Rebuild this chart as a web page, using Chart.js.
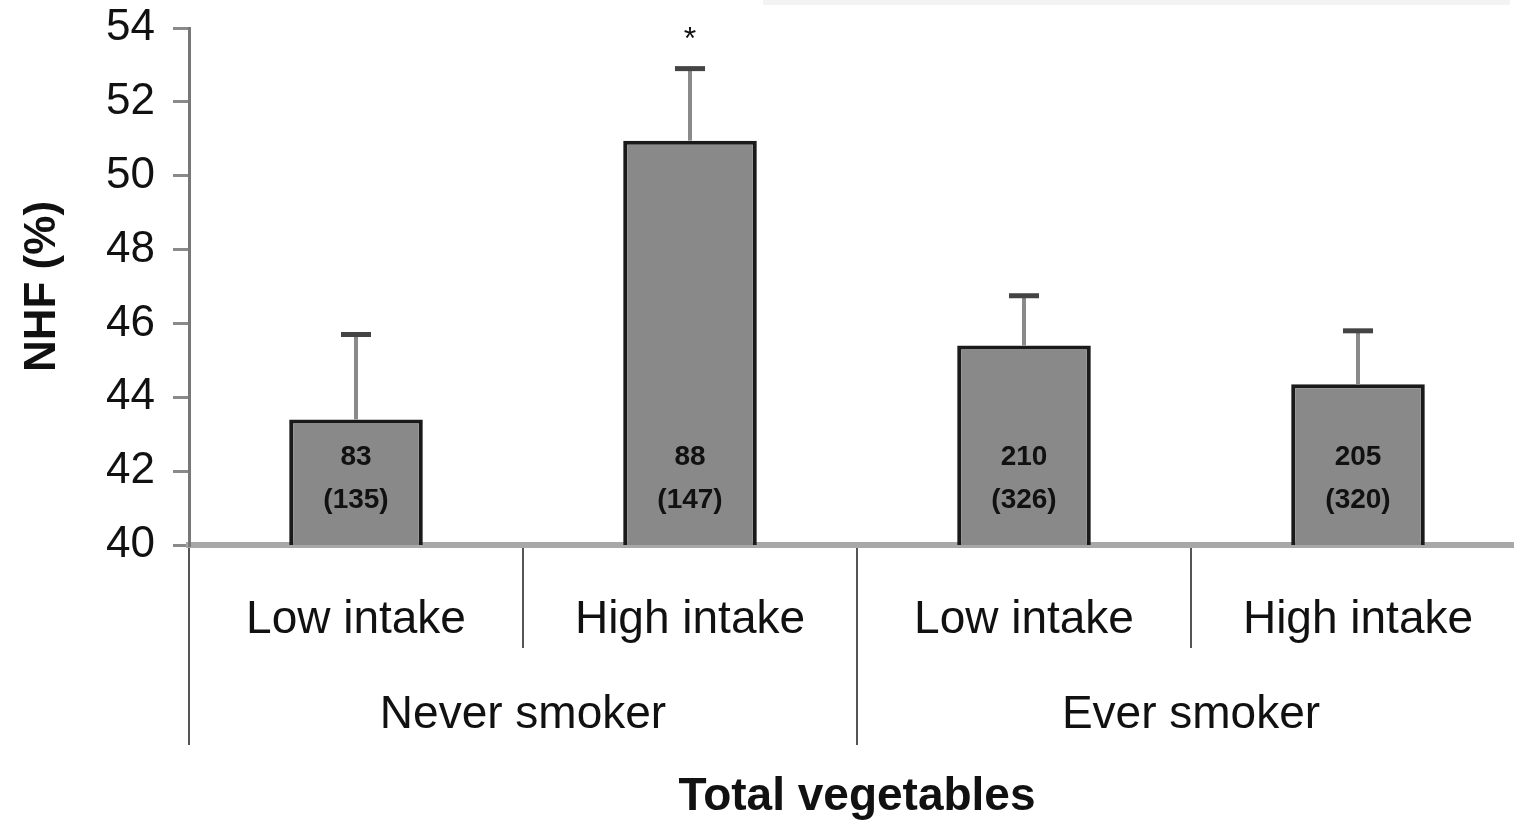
<!DOCTYPE html>
<html>
<head>
<meta charset="utf-8">
<title>NHF by total vegetables intake</title>
<script src="https://cdn.jsdelivr.net/npm/chart.js@4.4.1/dist/chart.umd.min.js"></script>
<style>
    html, body { margin: 0; padding: 0; background: #ffffff; overflow: hidden; }
    #wrap { position: relative; width: 1514px; height: 820px; overflow: hidden; }
    #strip { position: absolute; top: 0; left: 763px; width: 747px; height: 5px; background: #f2f3f2; }
</style>
</head>
<body>
<div id="wrap">
    <canvas id="nhfChart" width="1525" height="820"></canvas>
    <div id="strip"></div>
</div>
<script>
// chart values
const intakeLabels = ['Low intake', 'High intake', 'Low intake', 'High intake']; // bars
const smokerGroups = ['Never smoker', 'Ever smoker']; // two bars per group
const nhfMeans = [43.4, 50.95, 45.4, 44.35]; // NHF (%) means
const nhfUpper = [45.7, 52.9, 46.75, 45.8]; // top of the error bars
const nCases = ['83', '88', '210', '205']; // number printed in the bar
const nTotal = ['(135)', '(147)', '(326)', '(320)']; // number in brackets
const signif = ['', '*', '', '']; // significance mark
const yTicks = [40, 42, 44, 46, 48, 50, 52, 54];

const FONT = "'Liberation Sans', Arial, sans-serif";

// draws error bars, counts, asterisk, and the two-level x axis
const extrasPlugin = {
    id: 'extras',
    afterDatasetsDraw(chart) {
        const ctx = chart.ctx;
        const x = chart.scales.x;
        const y = chart.scales.y;
        const area = chart.chartArea;
        const meta = chart.getDatasetMeta(0);

        ctx.save();
        meta.data.forEach((bar, i) => {
            const yTop = y.getPixelForValue(nhfMeans[i]);
            const yErr = y.getPixelForValue(nhfUpper[i]);
            // error bar stem
            ctx.strokeStyle = '#8a8a8a';
            ctx.lineWidth = 4;
            ctx.beginPath();
            ctx.moveTo(bar.x, yTop);
            ctx.lineTo(bar.x, yErr);
            ctx.stroke();
            // cap
            ctx.strokeStyle = '#444';
            ctx.lineWidth = 5;
            ctx.beginPath();
            ctx.moveTo(bar.x - 15, yErr);
            ctx.lineTo(bar.x + 15, yErr);
            ctx.stroke();

            // counts inside bar
            ctx.fillStyle = '#111';
            ctx.font = 'bold 28px ' + FONT;
            ctx.textAlign = 'center';
            ctx.textBaseline = 'middle';
            ctx.fillText(nCases[i], bar.x, area.bottom - 88);
            ctx.fillText(nTotal[i], bar.x, area.bottom - 45);

            if (signif[i]) {
                ctx.font = '32px ' + FONT;
                ctx.fillText(signif[i], bar.x, yErr - 28);
            }
        });

        // separators below the axis
        const step = x.getPixelForValue(1) - x.getPixelForValue(0);
        ctx.strokeStyle = '#555';
        ctx.lineWidth = 2;
        for (let i = 0; i <= intakeLabels.length; i++) {
            const bx = x.getPixelForValue(0) - step / 2 + i * step;
            const longLine = i % 2 === 0;
            ctx.beginPath();
            ctx.moveTo(bx, area.bottom + 3);
            ctx.lineTo(bx, area.bottom + (longLine ? 200 : 103));
            ctx.stroke();
        }

        // group labels
        ctx.fillStyle = '#111';
        ctx.font = '46px ' + FONT;
        ctx.textAlign = 'center';
        ctx.textBaseline = 'middle';
        smokerGroups.forEach((g, k) => {
            const cx = (x.getPixelForValue(2 * k) + x.getPixelForValue(2 * k + 1)) / 2;
            ctx.fillText(g, cx, area.bottom + 170);
        });
        ctx.restore();
    }
};

document.addEventListener('DOMContentLoaded', () => {
    const ctx = document.getElementById('nhfChart').getContext('2d');
    new Chart(ctx, {
        type: 'bar',
        data: {
            labels: intakeLabels,
            datasets: [{
                data: nhfMeans,
                backgroundColor: '#898989',
                borderColor: '#1a1a1a',
                borderWidth: 4,
                barPercentage: 0.4,
                categoryPercentage: 1.0
            }]
        },
        options: {
            responsive: false,
            animation: false,
            layout: { padding: { top: 28, right: 0, bottom: 0, left: 0 } },
            plugins: {
                legend: { display: false },
                tooltip: { enabled: false }
            },
            scales: {
                x: {
                    afterFit: (s) => { s.height = 275; s.paddingLeft = 0; s.paddingRight = 0; },
                    grid: { display: false },
                    border: { display: true, color: '#a8a8a8', width: 6 },
                    ticks: {
                        color: '#111',
                        padding: 40,
                        maxRotation: 0,
                        font: { family: FONT, size: 46 }
                    },
                    title: {
                        display: true,
                        text: 'Total vegetables',
                        color: '#111',
                        padding: { top: 0, bottom: 0 },
                        font: { family: FONT, size: 46, weight: 'bold', lineHeight: 1 }
                    }
                },
                y: {
                    min: 40,
                    max: 54,
                    afterFit: (s) => { s.width = 189; s.paddingTop = 0; s.paddingBottom = 0; },
                    afterBuildTicks: (s) => { s.ticks = yTicks.map(v => ({ value: v })); },
                    grid: {
                        drawOnChartArea: false,
                        tickLength: 16,
                        color: '#8a8a8a',
                        lineWidth: 3
                    },
                    border: { display: true, color: '#777', width: 3 },
                    ticks: {
                        color: '#111',
                        padding: 18,
                        font: { family: FONT, size: 44 }
                    },
                    title: {
                        display: true,
                        text: 'NHF (%)',
                        color: '#111',
                        padding: { top: 16, bottom: 0 },
                        font: { family: FONT, size: 44, weight: 'bold' }
                    }
                }
            }
        },
        plugins: [extrasPlugin]
    });
});
</script>
</body>
</html>
